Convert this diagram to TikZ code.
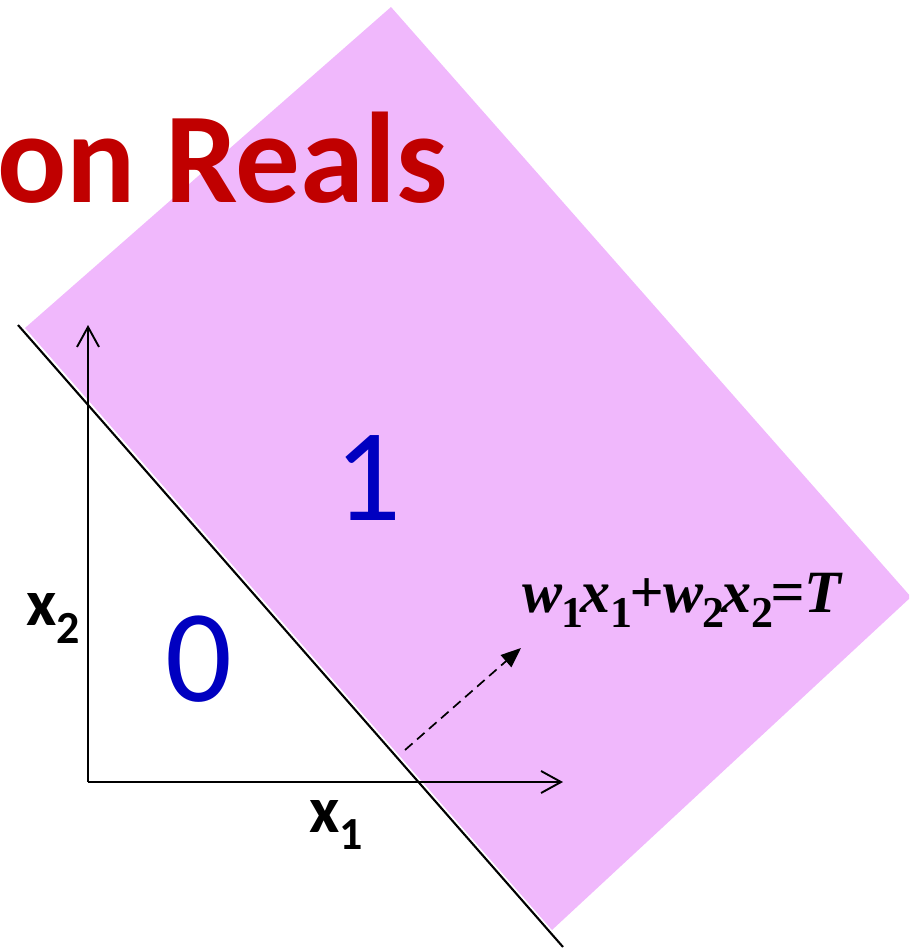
\documentclass[tikz,border=0pt]{standalone}
\usepackage{fontspec}
\setmainfont{Carlito}
\newfontfamily\eqfont{Liberation Serif}
\usetikzlibrary{arrows.meta}
\definecolor{pinkfill}{RGB}{240,184,252}
\definecolor{titlered}{RGB}{192,0,0}
\definecolor{labelblue}{RGB}{0,0,192}
\newcommand{\eqsub}[1]{\kern-0.5pt\raisebox{-15pt}{\fontsize{44}{44}\selectfont\upshape #1}\kern-3pt}
\begin{document}
\begin{tikzpicture}[x=1pt,y=-1pt,
  axis/.style={line width=1.9pt,-{Straight Barb[length=20pt,width=22pt,line width=1.9pt]}},
  boundary/.style={line width=2.1pt},
  normalarrow/.style={line width=1.7pt,dash pattern=on 10pt off 6pt,-{Triangle[length=20pt,width=16pt]}},
  txt/.style={inner sep=0pt,anchor=base west},
  region/.style={inner sep=0pt,anchor=base,text=labelblue,font=\fontsize{132}{132}\selectfont},
  axlabel/.style={inner sep=0pt,anchor=base west,font=\fontsize{66}{66}\selectfont\bfseries}]
\useasboundingbox (0,0) rectangle (909,949);
\begin{scope}
\clip (0,0) rectangle (909,949);
% half-plane (pink region)
\fill[pinkfill] (25,328) -- (391,7) -- (911,597) -- (552,930) -- cycle;
% title fragment
\node[txt,text=titlered,font=\fontsize{129}{129}\selectfont\bfseries] (title) at (-3,203) {on Reals};
\end{scope}
% coordinates
\coordinate (O) at (88,782);
\coordinate (ytip) at (88,325);
\coordinate (xtip) at (563,782);
\coordinate (ls) at (18,325);
\coordinate (le) at (563,947);
\coordinate (ds) at (405,750);
\coordinate (de) at (521,648);
% axes
\draw[axis] (O) -- (ytip);
\draw[axis] (O) -- (xtip);
% decision line
\draw[boundary] (ls) -- (le);
% normal direction
\draw[normalarrow] (ds) -- (de);
% region labels
\node[region] (one) at (368,520) {1};
\node[region] (zero) at (199,701) {0};
% axis labels
\node[axlabel] (x2) at (26,625) {x\raisebox{-18pt}{\fontsize{46}{46}\selectfont 2}};
\node[axlabel] (x1) at (309,832) {x\raisebox{-17pt}{\fontsize{46}{46}\selectfont 1}};
% equation
\node[txt,font=\eqfont\fontsize{60}{60}\selectfont\bfseries\itshape] (eq) at (522,612)
  {w\eqsub{1}x\eqsub{1}+w\eqsub{2}x\eqsub{2}=T};
\end{tikzpicture}
\end{document}
